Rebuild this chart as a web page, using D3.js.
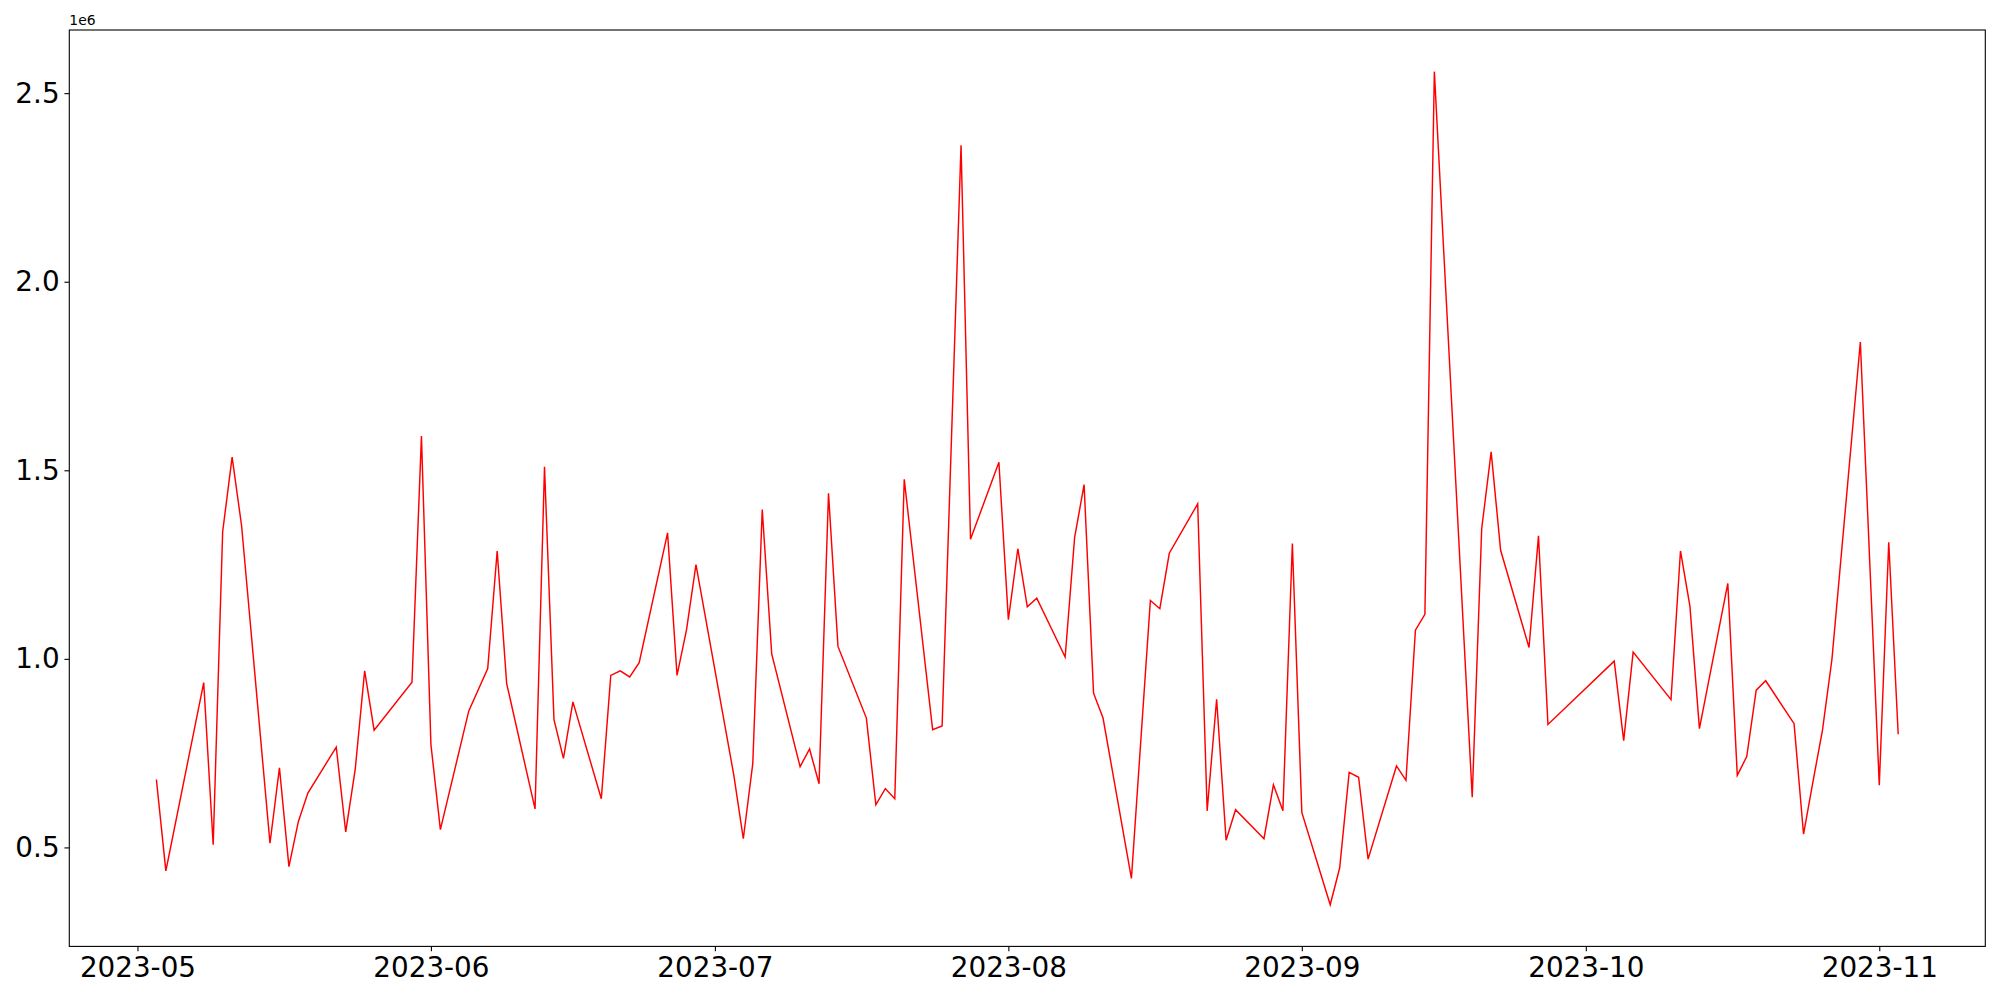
<!DOCTYPE html>
<html>
<head>
<meta charset="utf-8">
<script src="https://cdn.jsdelivr.net/npm/d3@7"></script>
<style>
  body { margin: 0; background: #fff; }
  svg { display: block; }
  .tick text { font-family: "DejaVu Sans", sans-serif; fill: #000; }
</style>
</head>
<body>
<svg width="2000" height="1000"></svg>
<script>
// daily values (in units of 1e6)
var dates = [
  "2023-05-03","2023-05-04","2023-05-08","2023-05-09","2023-05-10","2023-05-11","2023-05-12",
  "2023-05-15","2023-05-16","2023-05-17","2023-05-18","2023-05-19","2023-05-22","2023-05-23",
  "2023-05-24","2023-05-25","2023-05-26","2023-05-30","2023-05-31","2023-06-01","2023-06-02",
  "2023-06-05","2023-06-07","2023-06-08","2023-06-09","2023-06-12","2023-06-13","2023-06-14",
  "2023-06-15","2023-06-16","2023-06-19","2023-06-20","2023-06-21","2023-06-22","2023-06-23",
  "2023-06-26","2023-06-27","2023-06-28","2023-06-29","2023-07-03","2023-07-04","2023-07-05",
  "2023-07-06","2023-07-07","2023-07-10","2023-07-11","2023-07-12","2023-07-13","2023-07-14",
  "2023-07-17","2023-07-18","2023-07-19","2023-07-20","2023-07-21","2023-07-24","2023-07-25",
  "2023-07-27","2023-07-28","2023-07-31","2023-08-01","2023-08-02","2023-08-03","2023-08-04",
  "2023-08-07","2023-08-08","2023-08-09","2023-08-10","2023-08-11","2023-08-14","2023-08-16",
  "2023-08-17","2023-08-18","2023-08-21","2023-08-22","2023-08-23","2023-08-24","2023-08-25",
  "2023-08-28","2023-08-29","2023-08-30","2023-08-31","2023-09-01","2023-09-04","2023-09-05",
  "2023-09-06","2023-09-07","2023-09-08","2023-09-11","2023-09-12","2023-09-13","2023-09-14",
  "2023-09-15","2023-09-19","2023-09-20","2023-09-21","2023-09-22","2023-09-25","2023-09-26",
  "2023-09-27","2023-10-04","2023-10-05","2023-10-06","2023-10-10","2023-10-11","2023-10-12",
  "2023-10-13","2023-10-16","2023-10-17","2023-10-18","2023-10-19","2023-10-20","2023-10-23",
  "2023-10-24","2023-10-25","2023-10-26","2023-10-27","2023-10-30","2023-11-01","2023-11-02",
  "2023-11-03"
];

var values = [
  0.680,0.438,0.937,0.507,1.337,1.535,1.353,
  0.511,0.711,0.449,0.569,0.644,0.766,0.541,
  0.706,0.968,0.811,0.938,1.591,0.773,0.547,
  0.862,0.974,1.286,0.935,0.602,1.509,0.839,
  0.736,0.886,0.629,0.956,0.968,0.952,0.990,
  1.334,0.956,1.077,1.250,0.691,0.523,0.722,
  1.396,1.013,0.714,0.761,0.669,1.439,1.033,
  0.843,0.613,0.656,0.629,1.476,0.812,0.822,
  2.362,1.317,1.521,1.104,1.292,1.138,1.161,
  1.005,1.322,1.462,0.909,0.843,0.418,1.155,
  1.133,1.280,1.411,0.597,0.893,0.519,0.600,
  0.523,0.666,0.597,1.306,0.593,0.348,0.446,
  0.699,0.686,0.469,0.716,0.678,1.076,1.118,
  2.557,0.633,1.345,1.549,1.288,1.030,1.326,
  0.826,0.994,0.783,1.018,0.892,1.286,1.139,
  0.815,1.200,0.691,0.741,0.917,0.942,0.828,
  0.535,0.675,0.811,0.999,1.840,0.665,1.309,
  0.800
];

var monthTicks = ["2023-05-01","2023-06-01","2023-07-01","2023-08-01","2023-09-01","2023-10-01","2023-11-01"];
var yTicks = [0.5, 1.0, 1.5, 2.0, 2.5];

var svg = d3.select("svg");

var margin = {top: 30, right: 14.7, bottom: 53.6, left: 69.3},
    width = 2000 - margin.left - margin.right,
    height = 1000 - margin.top - margin.bottom;

var parse = d3.utcParse("%Y-%m-%d");

var data = dates.map(function(d, i) {
  return {date: parse(d), value: values[i] * 1e6};
});

// matplotlib style 5% margins on both axes
var xExt = d3.extent(data, function(d) { return d.date; }),
    xPad = (xExt[1] - xExt[0]) * 0.05;
var yExt = d3.extent(data, function(d) { return d.value; }),
    yPad = (yExt[1] - yExt[0]) * 0.05;

var x = d3.scaleUtc()
    .domain([new Date(+xExt[0] - xPad), new Date(+xExt[1] + xPad)])
    .range([0, width]);

var y = d3.scaleLinear()
    .domain([yExt[0] - yPad, yExt[1] + yPad])
    .range([height, 0]);

var g = svg.append("g")
    .attr("transform", "translate(" + margin.left + "," + margin.top + ")");

var line = d3.line()
    .x(function(d) { return x(d.date); })
    .y(function(d) { return y(d.value); });

g.append("path")
    .datum(data)
    .attr("fill", "none")
    .attr("stroke", "#ff0000")
    .attr("stroke-width", 1.45)
    .attr("stroke-linejoin", "miter")
    .attr("d", line);

var xAxis = g.append("g")
    .attr("transform", "translate(0," + height + ")")
    .call(d3.axisBottom(x)
      .tickValues(monthTicks.map(parse))
      .tickFormat(d3.utcFormat("%Y-%m"))
      .tickSize(4.86)
      .tickPadding(6.5));
xAxis.select(".domain").remove();

var yAxis = g.append("g")
    .call(d3.axisLeft(y)
      .tickValues(yTicks.map(function(v) { return v * 1e6; }))
      .tickFormat(function(v) { return d3.format(".1f")(v / 1e6); })
      .tickSize(4.86)
      .tickPadding(4.86));
yAxis.select(".domain").remove();

g.selectAll(".tick line").attr("stroke", "#000").attr("stroke-width", 1.1);
g.selectAll(".tick text").style("font-size", "27.8px");

// axes frame
g.append("rect")
    .attr("width", width)
    .attr("height", height)
    .attr("fill", "none")
    .attr("stroke", "#000")
    .attr("stroke-width", 1.1);

// offset text
svg.append("text")
    .attr("x", margin.left)
    .attr("y", margin.top - 5)
    .attr("font-family", "DejaVu Sans, sans-serif")
    .attr("font-size", "13.9px")
    .attr("fill", "#000")
    .text("1e6");
</script>
</body>
</html>
